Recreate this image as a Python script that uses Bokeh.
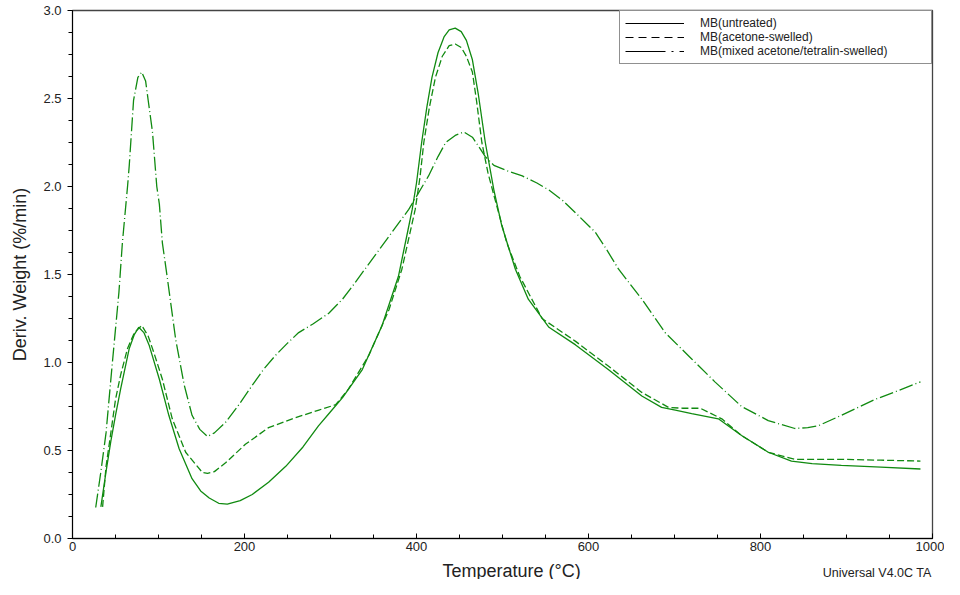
from bokeh.plotting import figure
from bokeh.layouts import column
from bokeh.models import (Range1d, SingleIntervalTicker, NumeralTickFormatter,
                          Legend, LegendItem)
from bokeh.core.properties import value
from bokeh.embed import file_html
from bokeh.resources import INLINE

# ---- data ----
t_untreated = [33, 39, 44.5, 50, 56, 66, 72, 77, 83, 89, 101, 112, 124, 139, 149, 159, 170,
               180, 195, 209, 228, 248, 268, 286, 300, 314, 337, 360, 379, 390, 395, 400,
               406, 412, 418, 425, 432, 438, 445, 452, 458, 465, 472, 480, 490, 499, 515,
               530, 554, 585, 623, 662, 685, 701, 720, 751, 778, 809, 836, 860, 894, 940, 986]
w_untreated = [0.18, 0.38, 0.55, 0.70, 0.85, 1.08, 1.16, 1.20, 1.17, 1.10, 0.905, 0.70, 0.51,
               0.34, 0.27, 0.23, 0.20, 0.195, 0.215, 0.25, 0.32, 0.41, 0.52, 0.64, 0.72, 0.80,
               0.96, 1.21, 1.49, 1.75, 1.87, 2.02, 2.25, 2.45, 2.62, 2.76, 2.85, 2.89, 2.90,
               2.88, 2.83, 2.72, 2.52, 2.25, 1.98, 1.78, 1.53, 1.36, 1.20, 1.10, 0.96, 0.81,
               0.745, 0.73, 0.71, 0.68, 0.585, 0.49, 0.44, 0.425, 0.415, 0.405, 0.395]

t_acetone = [35, 39, 44, 50, 56, 64, 72, 80.5, 88, 95, 104.5, 116, 131.6, 151, 157, 165,
             178, 201, 228, 255.5, 286.5, 306, 321, 344.5, 368, 383, 398.5, 404, 408.5, 415,
             422, 430, 438, 445, 452, 458, 465, 470, 476, 483, 490, 505, 520, 546, 585, 623,
             662, 693, 710, 730, 755, 778, 809, 840, 894, 940, 986]
w_acetone = [0.18, 0.41, 0.58, 0.79, 0.93, 1.08, 1.17, 1.21, 1.15, 1.05, 0.905, 0.68, 0.49,
             0.375, 0.37, 0.38, 0.43, 0.535, 0.63, 0.68, 0.73, 0.76, 0.85, 1.04, 1.30, 1.53,
             1.87, 2.05, 2.25, 2.45, 2.62, 2.74, 2.80, 2.81, 2.79, 2.74, 2.65, 2.48, 2.25,
             2.08, 1.95, 1.68, 1.49, 1.25, 1.12, 0.98, 0.83, 0.745, 0.74, 0.74, 0.68, 0.585,
             0.49, 0.45, 0.45, 0.445, 0.44]

t_mixed = [27, 33, 39, 46, 54, 58, 64, 66, 71, 76, 80.5, 85, 88, 93, 98, 101, 104.5, 110,
           120, 130, 139, 148, 157, 165, 178, 192, 209, 222, 236, 250, 263, 280, 298, 314,
           325, 352, 391, 414, 425, 434, 445, 455, 465, 472, 480, 490, 505, 523, 540, 554,
           570, 585, 608, 620, 635, 662, 689, 720, 747, 778, 809, 840, 855, 867, 894, 933,
           960, 986]
w_mixed = [0.176, 0.38, 0.60, 0.98, 1.40, 1.68, 2.00, 2.12, 2.49, 2.62, 2.65, 2.60, 2.49,
           2.31, 2.00, 1.90, 1.68, 1.49, 1.13, 0.87, 0.70, 0.62, 0.58, 0.60, 0.66, 0.75,
           0.87, 0.96, 1.04, 1.11, 1.17, 1.22, 1.28, 1.36, 1.43, 1.61, 1.87, 2.06, 2.17,
           2.25, 2.29, 2.31, 2.28, 2.23, 2.17, 2.12, 2.09, 2.06, 2.02, 1.98, 1.92, 1.85,
           1.74, 1.65, 1.53, 1.36, 1.17, 1.02, 0.89, 0.75, 0.67, 0.625, 0.63, 0.64, 0.70,
           0.79, 0.84, 0.89]

labels = ["MB(untreated)", "MB(acetone-swelled)", "MB(mixed acetone/tetralin-swelled)"]
x_title = "Temperature (°C)"
y_title = "Deriv. Weight (%/min)"
note = "Universal V4.0C TA"

FONT = "Liberation Sans"
GREEN = "#108a10"
TXT = "#222222"

p = figure(width=944, height=556, output_backend="svg", toolbar_location=None,
           x_range=Range1d(0, 1000), y_range=Range1d(0, 3.0),
           min_border_left=72, min_border_right=12, min_border_top=10,
           min_border_bottom=18, title=None)
p.background_fill_color = "white"
p.border_fill_color = "white"
p.outline_line_color = "#444444"
p.outline_line_width = 1.3
p.xgrid.visible = False
p.ygrid.visible = False

# axes
p.xaxis.ticker = SingleIntervalTicker(interval=200, num_minor_ticks=4)
p.yaxis.ticker = SingleIntervalTicker(interval=0.5, num_minor_ticks=4)
p.yaxis.formatter = NumeralTickFormatter(format="0.0")
for ax in (p.xaxis[0], p.yaxis[0]):
    ax.axis_line_color = "black"
    ax.major_tick_line_color = "black"
    ax.minor_tick_line_color = "black"
    ax.major_label_text_font = FONT
    ax.major_label_text_font_size = "13px"
    ax.major_label_text_color = TXT
    ax.axis_label_text_font = FONT
    ax.axis_label_text_font_style = "normal"
    ax.axis_label_text_color = TXT
p.xaxis.major_tick_in = 5
p.xaxis.major_tick_out = 0
p.xaxis.minor_tick_in = 4
p.xaxis.minor_tick_out = 0
p.xaxis.major_label_standoff = 3
p.yaxis.major_tick_in = 0
p.yaxis.major_tick_out = 5
p.yaxis.minor_tick_in = 0
p.yaxis.minor_tick_out = 4
p.yaxis.major_label_standoff = 6
p.yaxis.axis_label = y_title
p.yaxis.axis_label_text_font_size = "18px"
p.yaxis.axis_label_standoff = 10

# data curves
p.line(t_untreated, w_untreated, line_color=GREEN, line_width=1.3)
p.line(t_acetone, w_acetone, line_color=GREEN, line_width=1.3, line_dash="7 3")
p.line(t_mixed, w_mixed, line_color=GREEN, line_width=1.3, line_dash="14 3 1 3")

# legend samples (black, as in the reference); NaN data so nothing shows in the frame
nan = float("nan")
r1 = p.line([nan], [nan], line_color="black", line_width=1)
r2 = p.line([nan], [nan], line_color="black", line_width=1, line_dash="8 5")
r3 = p.line([nan], [nan], line_color="black", line_width=1, line_dash="40 6 2 6")
legend = Legend(items=[LegendItem(label=labels[0], renderers=[r1]),
                       LegendItem(label=labels[1], renderers=[r2]),
                       LegendItem(label=labels[2], renderers=[r3])],
                location="top_right", margin=0, padding=5, spacing=-2,
                glyph_width=59, glyph_height=10, label_height=10,
                label_width=226, label_standoff=16,
                label_text_font=FONT, label_text_font_size="12px",
                label_text_color=TXT, border_line_color="#222222",
                border_line_width=1, background_fill_color="white",
                background_fill_alpha=1.0)
p.add_layout(legend)

# strip below the axis carrying the axis title and the instrument note
s = figure(width=944, height=23, output_backend="svg", toolbar_location=None,
           x_range=Range1d(0, 944), y_range=Range1d(0, 23),
           x_axis_type=None, y_axis_type=None, min_border=0, title=None)
s.outline_line_color = None
s.xgrid.visible = False
s.ygrid.visible = False
s.background_fill_color = "white"
s.border_fill_color = "white"
s.text(x=[482], y=[9], text=[x_title], text_align="center", text_baseline="middle",
       text_font=value(FONT), text_font_size="18px", text_color=TXT)
s.text(x=[943], y=[7], text=[note], text_align="right", text_baseline="middle",
       text_font=value(FONT), text_font_size="12.5px", text_color=TXT)

layout = column(p, s, spacing=0)
open("out.html", "w").write(file_html(layout, INLINE))
